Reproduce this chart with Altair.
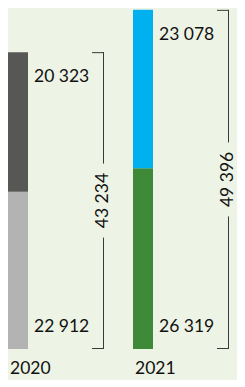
import altair as alt
import pandas as pd

years = ["2020", "2021"]
lower_values = [22912, 26319]
upper_values = [20323, 23078]
totals = [43234, 49396]
lower_colors = ["#B3B3B3", "#3E8A39"]
upper_colors = ["#575755", "#00B0EF"]


def fmt(v):
    return f"{v:,}".replace(",", " ")


seg_rows = []
for i, yr in enumerate(years):
    lo = lower_values[i]
    up = upper_values[i]
    seg_rows.append({"year": yr, "segment": yr + "-lower", "part": "lower",
                     "start": 0, "end": lo, "label": fmt(lo)})
    seg_rows.append({"year": yr, "segment": yr + "-upper", "part": "upper",
                     "start": lo, "end": lo + up, "label": fmt(up)})
seg = pd.DataFrame(seg_rows)

tot = pd.DataFrame({
    "year": years,
    "total": totals,
    "half": [t / 2 for t in totals],
    "base": [0] * len(years),
    "label": [fmt(t) for t in totals],
})

FONT = "Lato"
FS = 17.5
LINE = "#3a3a3a"
TXT = "#111111"
BR = 85  # bracket offset from bar centre (px)

xenc = alt.X("year:N", scale=alt.Scale(type="point", padding=0.08), axis=None)
yscale = alt.Scale(domain=[0, 49665], nice=False, zero=True)


def Y(f):
    return alt.Y(f, type="quantitative", scale=yscale, axis=None)


seg_domain = list(seg["segment"])
seg_range = []
for i in range(len(years)):
    seg_range += [lower_colors[i], upper_colors[i]]

bars = alt.Chart(seg).mark_bar(size=20).encode(
    x=xenc,
    y=Y("start"),
    y2="end",
    color=alt.Color("segment:N", scale=alt.Scale(domain=seg_domain, range=seg_range), legend=None),
)

lower_lab = alt.Chart(seg).transform_filter(alt.datum.part == "lower").mark_text(
    align="left", baseline="middle", dx=16, dy=-22, font=FONT, fontSize=FS, color=TXT
).encode(x=xenc, y=Y("start"), text="label:N")

upper_lab = alt.Chart(seg).transform_filter(alt.datum.part == "upper").mark_text(
    align="left", baseline="middle", dx=16, dy=25, font=FONT, fontSize=FS, color=TXT
).encode(x=xenc, y=Y("end"), text="label:N")

br_up = alt.Chart(tot).mark_rule(xOffset=BR + 0.5, yOffset=-37, color=LINE, strokeWidth=1).encode(
    x=xenc, y=Y("half"), y2="total")
br_lo = alt.Chart(tot).mark_rule(xOffset=BR + 0.5, y2Offset=37, color=LINE, strokeWidth=1).encode(
    x=xenc, y=Y("base"), y2="half")
tick_top = alt.Chart(tot).mark_rule(xOffset=BR - 11, x2Offset=BR + 1, yOffset=0.5, color=LINE, strokeWidth=1).encode(
    x=xenc, x2="year:N", y=Y("total"))
tick_bot = alt.Chart(tot).mark_rule(xOffset=BR - 11, x2Offset=BR + 1, yOffset=-0.5, color=LINE, strokeWidth=1).encode(
    x=xenc, x2="year:N", y=Y("base"))

tot_lab = alt.Chart(tot).mark_text(
    angle=270, align="center", baseline="middle", xOffset=BR, font=FONT, fontSize=FS, color=TXT
).encode(x=xenc, y=Y("half"), text="label:N")

year_lab = alt.Chart(tot).mark_text(
    align="left", baseline="middle", dx=-8, dy=20, font=FONT, fontSize=FS, color=TXT
).encode(x=xenc, y=Y("base"), text="year:N")

chart = alt.layer(
    bars, lower_lab, upper_lab, br_up, br_lo, tick_top, tick_bot, tot_lab, year_lab
).properties(
    width=145,
    height=341,
    autosize=alt.AutoSizeParams(type="none"),
    padding={"left": 0, "top": 0, "right": 84, "bottom": 31},
    background="#EDF4E5",
).configure_view(stroke=None)

chart.save("out.html", embed_options={"renderer": "svg", "actions": False})
